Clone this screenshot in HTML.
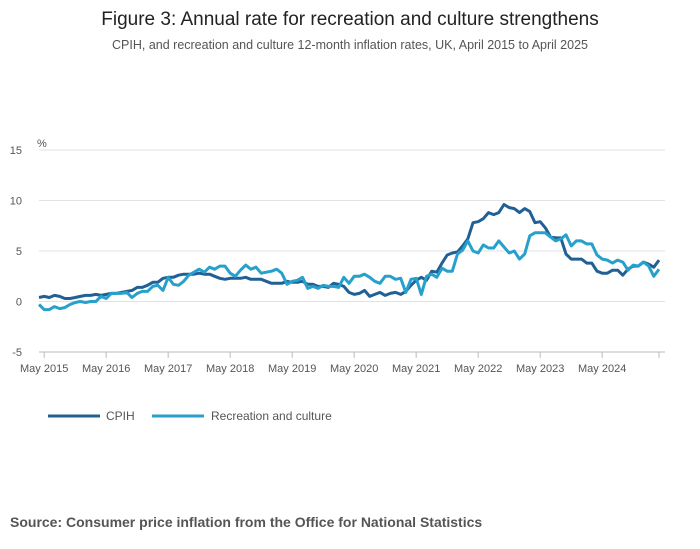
<!DOCTYPE html>
<html><head><meta charset="utf-8"><style>
body{margin:0;background:#fff;font-family:"Liberation Sans",sans-serif;}
svg{display:block}
</style></head><body>
<svg width="700" height="549" id="c">
<text x="350" y="25" text-anchor="middle" font-size="19" fill="#222">Figure 3: Annual rate for recreation and culture strengthens</text>
<text x="350" y="49" text-anchor="middle" font-size="12.5" fill="#555">CPIH, and recreation and culture 12-month inflation rates, UK, April 2015 to April 2025</text>
<text x="37" y="147" font-size="11" fill="#555">%</text>
<g id="grid"></g><g id="xax"></g><g id="series"></g>
<g>
<g><line x1="48" y1="416" x2="100" y2="416" stroke="#206095" stroke-width="3"/><text x="106" y="420" font-size="12" fill="#555">CPIH</text></g>
<g><line x1="152" y1="416" x2="204" y2="416" stroke="#27a0cc" stroke-width="3"/><text x="211" y="420" font-size="12" fill="#555">Recreation and culture</text></g>
</g>
<text x="10" y="527" font-size="14" font-weight="bold" fill="#555">Source: Consumer price inflation from the Office for National Statistics</text>
</svg>
<script>
const yTicks=[15,10,5,0,-5];
const xTickLabels=["May 2015","May 2016","May 2017","May 2018","May 2019","May 2020","May 2021","May 2022","May 2023","May 2024"];
const cpih=[0.4,0.5,0.4,0.6,0.5,0.3,0.3,0.4,0.5,
0.6,0.6,0.7,0.6,0.7,0.8,0.8,0.9,1.0,1.1,1.4,1.4,
1.6,1.9,1.9,2.3,2.4,2.4,2.6,2.7,2.7,2.7,2.8,2.7,
2.7,2.5,2.3,2.2,2.3,2.3,2.3,2.4,2.2,2.2,2.2,2.0,
1.8,1.8,1.8,2.0,1.9,1.9,2.0,1.7,1.7,1.5,1.5,1.4,
1.8,1.7,1.5,0.9,0.7,0.8,1.1,0.5,0.7,0.9,0.6,0.8,
0.9,0.7,1.0,1.6,2.1,2.4,2.1,3.0,2.9,3.8,4.6,4.8,
4.9,5.5,6.2,7.8,7.9,8.2,8.8,8.6,8.8,9.6,9.3,9.2,
8.8,9.2,8.9,7.8,7.9,7.3,6.4,6.3,6.3,4.7,4.2,4.2,
4.2,3.8,3.8,3.0,2.8,2.8,3.1,3.1,2.6,3.2,3.5,3.5,
3.9,3.7,3.4,4.1];
const recreation=[-0.3,-0.8,-0.8,-0.5,-0.7,-0.6,-0.3,-0.1,0.0,
-0.1,0.0,0.0,0.5,0.3,0.8,0.8,0.8,0.9,0.4,0.8,1.0,
1.0,1.5,1.6,1.1,2.4,1.7,1.6,2.0,2.6,2.9,3.2,2.9,
3.4,3.2,3.5,3.5,2.8,2.5,3.1,3.6,3.2,3.4,2.8,2.9,
3.0,3.2,2.8,1.7,2.0,2.1,2.4,1.3,1.5,1.3,1.6,1.5,
1.5,1.4,2.4,1.8,2.5,2.5,2.7,2.4,2.0,1.8,2.5,2.5,
2.2,2.3,0.9,2.2,2.3,0.7,2.5,2.7,2.4,3.3,3.0,3.0,
4.7,5.1,6.0,5.0,4.8,5.6,5.3,5.3,6.0,5.4,4.8,5.0,
4.2,4.7,6.5,6.8,6.8,6.8,6.4,6.0,6.2,6.6,5.5,6.0,
6.0,5.7,5.7,4.6,4.2,4.1,3.8,4.1,3.9,3.1,3.6,3.5,
3.9,3.5,2.5,3.2];
const NS="http://www.w3.org/2000/svg";
const x0=39,x1=659,yTop=150,yBot=352,vMax=15,vMin=-5;
const xs=i=>x0+(x1-x0)*i/(cpih.length-1);
const ys=v=>yTop+(vMax-v)*(yBot-yTop)/(vMax-vMin);
const grid=document.getElementById('grid');
yTicks.forEach(t=>{
 const l=document.createElementNS(NS,'line');
 l.setAttribute('x1',x0);l.setAttribute('x2',665);l.setAttribute('y1',ys(t));l.setAttribute('y2',ys(t));
 l.setAttribute('stroke',t===-5?'#bbb':'#e2e2e2');l.setAttribute('stroke-width','1');
 
 
 grid.appendChild(l);
 const tx=document.createElementNS(NS,'text');
 tx.setAttribute('x',22);tx.setAttribute('y',ys(t)+4);tx.setAttribute('text-anchor','end');
 tx.setAttribute('font-size','11');tx.setAttribute('fill','#555');tx.textContent=t;
 
 
 grid.appendChild(tx);
});
const xax=document.getElementById('xax');
for(let k=0;k<=10;k++){
 const xi=xs(1+12*k>120?120:1+12*k);
 const tk=document.createElementNS(NS,'line');
 tk.setAttribute('x1',xi);tk.setAttribute('x2',xi);tk.setAttribute('y1',352);tk.setAttribute('y2',358);
 tk.setAttribute('stroke','#bbb');
 
 
 xax.appendChild(tk);
}
xTickLabels.forEach((s,k)=>{
 const tx=document.createElementNS(NS,'text');
 tx.setAttribute('x',xs(1+12*k));tx.setAttribute('y',372);tx.setAttribute('text-anchor','middle');
 tx.setAttribute('font-size','11');tx.setAttribute('fill','#555');tx.textContent=s;
 
 
 xax.appendChild(tx);
});
const sg=document.getElementById('series');
[[cpih,'#206095','cpih-line'],[recreation,'#27a0cc','recreation-line']].forEach(([d,c,n])=>{
 const p=document.createElementNS(NS,'path');
 p.setAttribute('d',d.map((v,i)=>(i?'L':'M')+xs(i).toFixed(1)+','+ys(v).toFixed(1)).join(''));
 p.setAttribute('fill','none');p.setAttribute('stroke',c);p.setAttribute('stroke-width','3');p.setAttribute('stroke-linejoin','round');
 
 
 sg.appendChild(p);
});
</script>
</body></html>
